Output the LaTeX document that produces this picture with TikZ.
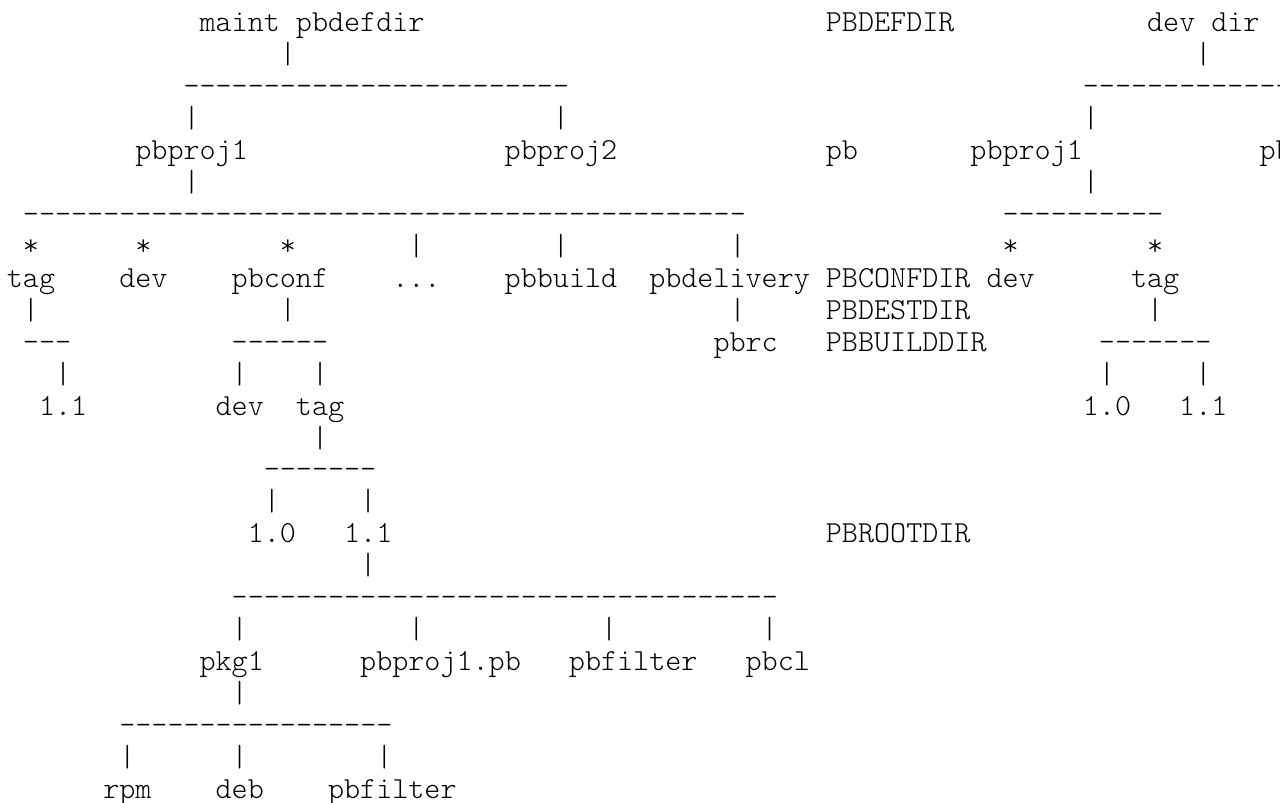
\documentclass[tikz,border=0pt]{standalone}
\usepackage{fontspec}
\setmonofont{Latin Modern Mono Light}
\usepackage{tikz}

\begin{document}
\begin{tikzpicture}[x=8.03pt,y=-15.975pt,
	entry/.style={anchor=base west,inner sep=0pt,font=\fontsize{15.3pt}{16pt}\selectfont\ttfamily}]
	\useasboundingbox (-0.405,-0.992) rectangle (79.30,24.141);
	\clip (-0.405,-0.992) rectangle (79.30,24.141);

	\node (maint) [entry] at (12,0) {maint pbdefdir};
	\node (pbdefdir) [entry] at (51,0) {PBDEFDIR};
	\node (devdir) [entry] at (71,0) {dev dir (};
	\node (maintbar) [entry] at (17,1) {|};
	\node (devdirbar) [entry] at (74,1) {|};
	\node (maintline) [entry] at (11,2) {------------------------};
	\node (devdirline) [entry] at (67,2) {-------------};
	\node (projbarA) [entry] at (11,3) {|};
	\node (projbarB) [entry] at (34,3) {|};
	\node (projbarC) [entry] at (67,3) {|};
	\node (pbprojA) [entry] at (8,4) {pbproj1};
	\node (pbprojB) [entry] at (31,4) {pbproj2};
	\node (pb) [entry] at (51,4) {pb};
	\node (pbprojC) [entry] at (60,4) {pbproj1};
	\node (pbprojD) [entry] at (78,4) {pb};
	\node (pbprojAbar) [entry] at (11,5) {|};
	\node (pbprojCbar) [entry] at (67,5) {|};
	\node (pbprojAline) [entry] at (1,6) {---------------------------------------------};
	\node (pbprojCline) [entry] at (62,6) {----------};

	\node (starA) [entry] at (1,7) {*};
	\node (starB) [entry] at (8,7) {*};
	\node (starC) [entry] at (17,7) {*};
	\node (dotsbar) [entry] at (25,7) {|};
	\node (buildbar) [entry] at (34,7) {|};
	\node (deliverybar) [entry] at (45,7) {|};
	\node (starD) [entry] at (62,7) {*};
	\node (starE) [entry] at (71,7) {*};
	\node (tag) [entry] at (0,8) {tag};
	\node (dev) [entry] at (7,8) {dev};
	\node (pbconf) [entry] at (14,8) {pbconf};
	\node (dots) [entry] at (24,8) {...};
	\node (pbbuild) [entry] at (31,8) {pbbuild};
	\node (pbdelivery) [entry] at (40,8) {pbdelivery};
	\node (pbconfdir) [entry] at (51,8) {PBCONFDIR};
	\node (devC) [entry] at (61,8) {dev};
	\node (tagC) [entry] at (70,8) {tag};
	\node (tagbar) [entry] at (1,9) {|};
	\node (pbconfbar) [entry] at (17,9) {|};
	\node (pbrcbar) [entry] at (45,9) {|};
	\node (pbdestdir) [entry] at (51,9) {PBDESTDIR};
	\node (tagCbar) [entry] at (71,9) {|};
	\node (tagline) [entry] at (1,10) {---};
	\node (pbconfline) [entry] at (14,10) {------};
	\node (pbrc) [entry] at (44,10) {pbrc};
	\node (pbbuilddir) [entry] at (51,10) {PBBUILDDIR};
	\node (tagCline) [entry] at (68,10) {-------};
	\node (verbar) [entry] at (3,11) {|};
	\node (confdevbar) [entry] at (14,11) {|};
	\node (conftagbar) [entry] at (19,11) {|};
	\node (verCbarA) [entry] at (68,11) {|};
	\node (verCbarB) [entry] at (74,11) {|};
	\node (ver) [entry] at (2,12) {1.1};
	\node (confdev) [entry] at (13,12) {dev};
	\node (conftag) [entry] at (18,12) {tag};
	\node (verCA) [entry] at (67,12) {1.0};
	\node (verCB) [entry] at (73,12) {1.1};

	\node (conftagbarB) [entry] at (19,13) {|};
	\node (conftagline) [entry] at (16,14) {-------};
	\node (confverbarA) [entry] at (16,15) {|};
	\node (confverbarB) [entry] at (22,15) {|};
	\node (confverA) [entry] at (15,16) {1.0};
	\node (confverB) [entry] at (21,16) {1.1};
	\node (pbrootdir) [entry] at (51,16) {PBROOTDIR};
	\node (confverBbar) [entry] at (22,17) {|};
	\node (confverBline) [entry] at (14,18) {----------------------------------};
	\node (pkgbar) [entry] at (14,19) {|};
	\node (projpbbar) [entry] at (25,19) {|};
	\node (filterbar) [entry] at (37,19) {|};
	\node (pbclbar) [entry] at (47,19) {|};
	\node (pkg) [entry] at (12,20) {pkg1};
	\node (projpb) [entry] at (22,20) {pbproj1.pb};
	\node (filter) [entry] at (35,20) {pbfilter};
	\node (pbcl) [entry] at (46,20) {pbcl};
	\node (pkgbarB) [entry] at (14,21) {|};
	\node (pkgline) [entry] at (7,22) {-----------------};
	\node (rpmbar) [entry] at (7,23) {|};
	\node (debbar) [entry] at (14,23) {|};
	\node (pkgfilterbar) [entry] at (23,23) {|};
	\node (rpm) [entry] at (6,24) {rpm};
	\node (deb) [entry] at (13,24) {deb};
	\node (pkgfilter) [entry] at (20,24) {pbfilter};
\end{tikzpicture}
\end{document}
